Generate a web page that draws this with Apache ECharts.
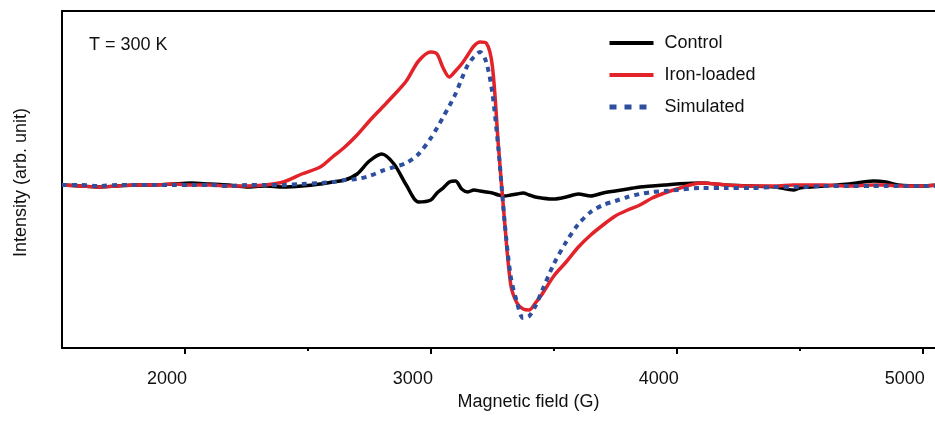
<!DOCTYPE html>
<html>
<head>
<meta charset="utf-8">
<script src="https://cdn.jsdelivr.net/npm/echarts@6/dist/echarts.min.js"></script>
<style>
  html, body { margin: 0; padding: 0; background: #fff; }
  #divChart { width: 935px; height: 422px; }
</style>
</head>
<body>
<div id="divChart"></div>
<script>
// magnetic field (G), shared by all three traces
var fields = [1500, 1575, 1650, 1725, 1800, 1875, 1950, 2025, 2100, 2175, 2250, 2325, 2400, 2475, 2550,
    2600, 2650, 2700, 2750, 2800, 2850, 2900, 2950, 3000, 3025, 3050, 3075, 3100, 3125, 3150, 3175,
    3200, 3225, 3250, 3275, 3300, 3325, 3350, 3375, 3400, 3425, 3450, 3500, 3550, 3600, 3650, 3700,
    3750, 3800, 3850, 3900, 3950, 4000, 4100, 4200, 4300, 4400, 4475, 4500, 4600, 4700, 4800, 4850,
    4900, 5000, 5060];

var control = [0, -1, -2, -1, 0, 0, 1, 2, 1, 0, -2, -1, -2, -1, 1,
    3, 5, 11, 24, 31, 21, 0, -17, -15, -8, -3, 3, 4, -4, -7, -5,
    -6, -7, -8, -10, -11, -10, -9, -8, -10, -12, -13, -14, -12, -9, -11, -8,
    -6, -4, -2, -1, 0, 1, 2, 0, -1, -2, -5, -3, -1, 1, 4, 3,
    0, -1, 0];

var ironLoaded = [0, -1, -2, -1, 0, 0, 1, 0, 0, -1, -1, 0, 3, 11, 18,
    28, 38, 50, 64, 77, 90, 104, 124, 133, 131, 117, 108, 114, 121, 130, 139,
    143, 142, 119, 38, -37, -100, -118, -124, -125, -118, -110, -91, -77, -62, -50, -40,
    -31, -25, -20, -13, -8, -4, 2, 0, -1, -1, 0, 0, 0, -1, 0, 0,
    -1, -1, 0];

var simulated = [0, 0, -1, 0, 0, 0, 0, 0, 0, -1, 0, 0, 0, 1, 2,
    3, 5, 6, 9, 14, 18, 22, 31, 47, 57, 68, 79, 91, 106, 120, 128,
    133, 123, 92, 35, -37, -92, -117, -133, -131, -121, -107, -79, -57, -39, -27, -20,
    -16, -12, -9, -7, -6, -5, -3, -3, -3, -2, -2, -2, -1, -1, -1, -1,
    -1, -1, -1];

var majorTicks = [2000, 3000, 4000, 5000];
var minorTicks = [2500, 3500, 4500];

function pairs(values) {
    return fields.map(function (f, i) { return [f, values[i]]; });
}

var font = 'Liberation Sans, Arial, sans-serif';
var chart = echarts.init(document.getElementById('divChart'));

var option = {
    animation: false,
    title: {
        text: 'T = 300 K',
        left: 89,
        top: 36,
        padding: 0,
        textStyle: { fontFamily: font, fontSize: 18, fontWeight: 'normal', color: '#111' }
    },
    legend: {
        orient: 'vertical',
        left: 602,
        top: 29,
        itemWidth: 44,
        itemHeight: 14,
        itemGap: 14,
        itemStyle: { opacity: 0 },
        lineStyle: { width: 4 },
        textStyle: { fontFamily: font, fontSize: 18, color: '#111', padding: [0, 0, 0, 6] },
        data: [
            { name: 'Control' },
            { name: 'Iron-loaded' },
            { name: 'Simulated', lineStyle: { width: 5, type: [7, 8], cap: 'butt' } }
        ]
    },
    grid: {
        left: 62,
        right: 0,
        top: 11,
        bottom: 74
    },
    xAxis: [
        {
            type: 'value',
            min: 1500,
            max: 5050,
            name: 'Magnetic field (G)',
            nameLocation: 'middle',
            nameGap: 42,
            nameTextStyle: { fontFamily: font, fontSize: 18, color: '#111', padding: [0, 0, 0, 60] },
            axisLine: { show: true, onZero: false, lineStyle: { color: '#000', width: 2 } },
            axisTick: { show: true, customValues: majorTicks, length: 6, lineStyle: { color: '#000', width: 2 } },
            axisLabel: {
                customValues: majorTicks,
                margin: 22,
                padding: [0, 36, 0, 0],
                fontFamily: font,
                fontSize: 18,
                color: '#111',
                formatter: function (v) { return String(v); }
            },
            splitLine: { show: false }
        },
        {
            type: 'value',
            position: 'bottom',
            min: 1500,
            max: 5050,
            axisLine: { show: false, onZero: false },
            axisTick: { show: true, customValues: minorTicks, length: 3, lineStyle: { color: '#000', width: 2 } },
            axisLabel: { show: false },
            splitLine: { show: false }
        },
        {
            type: 'value',
            position: 'top',
            min: 1500,
            max: 5050,
            axisLine: { show: true, onZero: false, lineStyle: { color: '#000', width: 2 } },
            axisTick: { show: false },
            axisLabel: { show: false },
            splitLine: { show: false }
        }
    ],
    yAxis: {
        type: 'value',
        min: -163,
        max: 174,
        name: 'Intensity (arb. unit)',
        nameLocation: 'middle',
        nameGap: 32,
        nameTextStyle: { fontFamily: font, fontSize: 18, color: '#111', padding: [0, 6, 0, 0] },
        axisLine: { show: true, onZero: false, lineStyle: { color: '#000', width: 2 } },
        axisTick: { show: false },
        axisLabel: { show: false },
        splitLine: { show: false }
    },
    series: [
        {
            name: 'Control',
            type: 'line',
            showSymbol: false,
            symbol: 'none',
            smooth: 0.3,
            color: '#000000',
            lineStyle: { width: 3.5, color: '#000000' },
            data: pairs(control)
        },
        {
            name: 'Iron-loaded',
            type: 'line',
            showSymbol: false,
            symbol: 'none',
            smooth: 0.3,
            color: '#e3232a',
            lineStyle: { width: 3.5, color: '#e3232a' },
            data: pairs(ironLoaded)
        },
        {
            name: 'Simulated',
            type: 'line',
            showSymbol: false,
            symbol: 'none',
            smooth: 0.3,
            color: '#2d4f9e',
            lineStyle: { width: 4, color: '#2d4f9e', type: [5, 5], cap: 'butt' },
            data: pairs(simulated)
        }
    ]
};
chart.setOption(option);
</script>
</body>
</html>
